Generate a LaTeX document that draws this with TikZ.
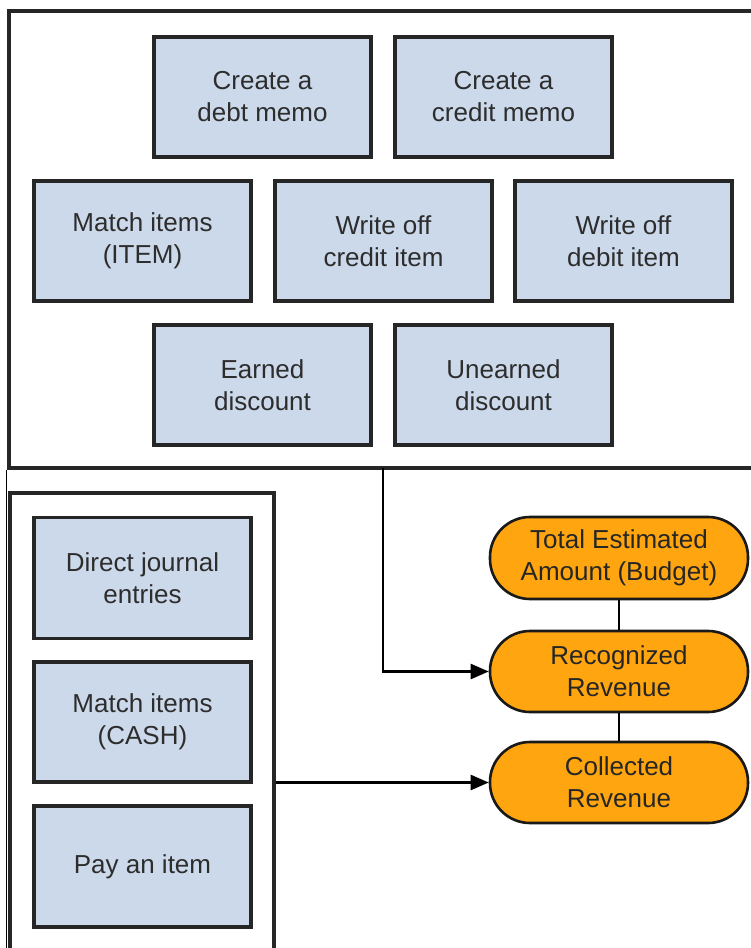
\documentclass[tikz,border=0pt]{standalone}
\usepackage{fontspec}
\setmainfont{Liberation Sans}
\usetikzlibrary{arrows.meta}
\definecolor{boxblue}{RGB}{204,217,234}
\definecolor{pillorange}{RGB}{255,165,16}
\definecolor{txtgray}{RGB}{45,45,45}
\tikzset{
  frame/.style={draw=black!85, line width=3.2pt, fill=none, inner sep=0pt},
  bluebox/.style={draw=black!85, line width=3.2pt, fill=boxblue, inner sep=0pt,
    minimum width=217pt, minimum height=120pt, align=center, text=txtgray,
    font=\fontsize{26}{32}\selectfont},
  pill/.style={draw=black!90, line width=2.6pt, fill=pillorange, inner sep=0pt,
    rounded corners=40pt, minimum width=258pt, minimum height=81pt, align=center,
    text=black!85, font=\fontsize{26}{32}\selectfont},
  conn/.style={draw=black, line width=2.5pt},
  arr/.style={conn, -{Triangle[length=18pt,width=15pt]}}
}
\begin{document}
\begin{tikzpicture}[x=1pt,y=-1pt]
\useasboundingbox (0,0) rectangle (751,948);
\fill[white] (0,0) rectangle (751,948);
% frames
\node[frame, minimum width=761pt, minimum height=457pt] (topframe) at (389.5,239.5) {};
\node[frame, minimum width=264pt, minimum height=480pt] (botframe) at (142,733) {};
\draw[line width=1.2pt] (6.5,470) -- (6.5,948);
% top boxes
\node[bluebox] (debt) at (262.5,97) {Create a\\debt memo};
\node[bluebox] (credit) at (503.5,97) {Create a\\credit memo};
\node[bluebox] (matchitem) at (142.5,241) {Match items\\(ITEM)};
\node[bluebox] (wocredit) at (383.5,241) {Write off\\credit item};
\node[bluebox] (wodebit) at (623.5,241) {Write off\\debit item};
\node[bluebox] (earned) at (262.5,385) {Earned\\discount};
\node[bluebox] (unearned) at (503.5,385) {Unearned\\discount};
% bottom-left boxes
\node[bluebox, minimum height=121pt] (journal) at (142.5,578) {Direct journal\\entries};
\node[bluebox, minimum height=120pt] (matchcash) at (142.5,722) {Match items\\(CASH)};
\node[bluebox, minimum height=121pt] (pay) at (142.5,866.5) {Pay an item};
% pills
\node[pill, minimum height=82pt] (budget) at (619,558) {Total Estimated\\Amount (Budget)};
\node[pill] (recognized) at (619,671.5) {Recognized\\Revenue};
\node[pill] (collected) at (619,782.5) {Collected\\Revenue};
% connectors
\draw[conn] (budget.south) -- (recognized.north);
\draw[conn] (recognized.south) -- (collected.north);
\coordinate (topout) at (383,468);
\draw[arr] (topout) |- (recognized.west);
\draw[arr] (botframe.east |- collected.west) -- (collected.west);
\end{tikzpicture}
\end{document}
